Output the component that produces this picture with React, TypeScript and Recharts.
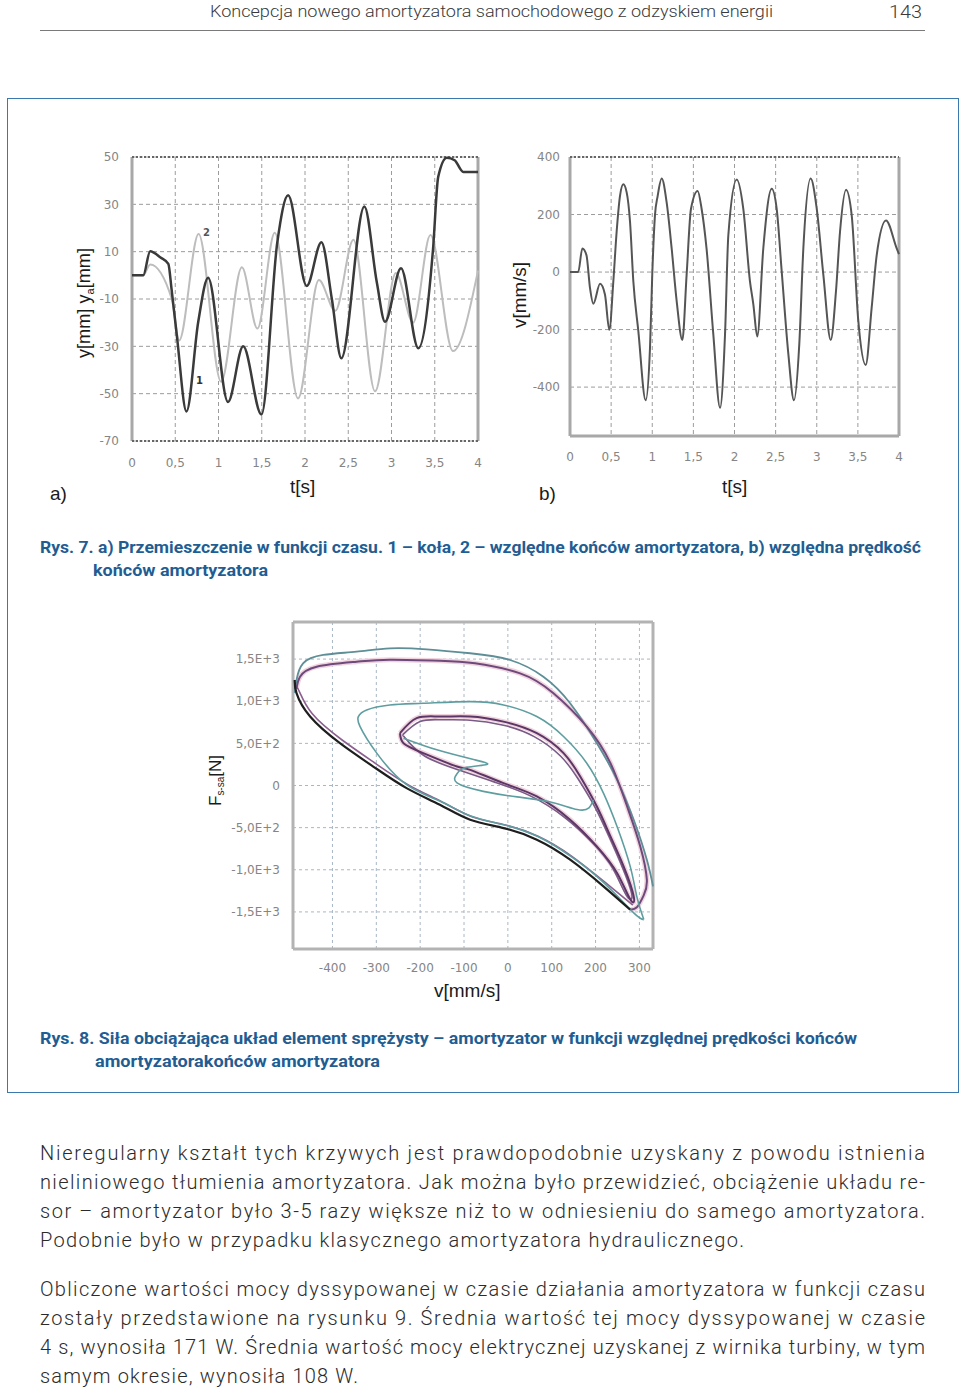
import React from 'react';
import { LineChart, Line, XAxis, YAxis, CartesianGrid, ReferenceLine } from 'recharts';

// ---------- ticks ----------
const timeTicks = [0, 0.5, 1, 1.5, 2, 2.5, 3, 3.5, 4];
const dispTicks = [50, 30, 10, -10, -30, -50, -70];
const velTicks = [400, 200, 0, -200, -400];
const speedTicks = [-400, -300, -200, -100, 0, 100, 200, 300];
const forceTicks = [1500, 1000, 500, 0, -500, -1000, -1500];
const forceTickLabels = ['1,5E+3', '1,0E+3', '5,0E+2', '0', '-5,0E+2', '-1,0E+3', '-1,5E+3'];

// ---------- Rys. 7a: displacement ----------
const wheelT = [0, 0.13, 0.21, 0.33, 0.42, 0.457, 0.52, 0.63, 0.766, 0.88, 1.11, 1.285, 1.497, 1.68, 1.805, 2.02, 2.19, 2.31, 2.42, 2.686, 2.83, 2.925, 3.11, 3.31, 3.48, 3.54, 3.64, 3.73, 3.83, 3.96, 4.0];
const wheelY = [0, 0, 10.2, 7.5, 4.8, -5.7, -26, -57.5, -19.6, -1, -53.5, -30, -58.8, 14, 33.8, -4.5, 14, -9.9, -35, 29.1, -2.9, -19.6, 3, -30.8, 11, 41.6, 49.7, 48.6, 43.7, 43.7, 43.7];

const relT = [0, 0.13, 0.21, 0.46, 0.545, 0.77, 1.03, 1.27, 1.45, 1.65, 1.92, 2.16, 2.35, 2.56, 2.81, 3.05, 3.25, 3.45, 3.71, 4.0];
const relY = [0, 0, 4.6, -10, -27.5, 17.5, -45, 3.4, -22.5, 18, -52, -2, -15, 15, -49, 1, -20, 17, -32, 2];

// ---------- Rys. 7b: relative velocity ----------
const velT = [0, 0.1, 0.15, 0.2, 0.243, 0.284, 0.365, 0.425, 0.478, 0.527, 0.567, 0.608, 0.648, 0.689, 0.73, 0.77, 0.83, 0.92, 0.973, 1.0, 1.033, 1.066, 1.115, 1.175, 1.236, 1.297, 1.366, 1.418, 1.471, 1.552, 1.6, 1.66, 1.742, 1.824, 1.885, 1.925, 2.027, 2.107, 2.188, 2.229, 2.277, 2.35, 2.452, 2.513, 2.574, 2.654, 2.723, 2.788, 2.837, 2.926, 3.0, 3.08, 3.17, 3.234, 3.283, 3.356, 3.425, 3.505, 3.595, 3.668, 3.729, 3.842, 3.972, 4.0];
const velV = [0, 0, 82, 59, -55, -110, -41, -78, -201, -32, 140, 265, 305, 277, 174, -32, -203, -446, -261, -9, 197, 265, 325, 242, 82, -101, -236, -9, 220, 282, 220, 82, -215, -472, -215, 128, 322, 220, -32, -112, -224, 82, 290, 220, 2, -283, -446, -249, 82, 325, 220, -9, -236, -66, 140, 286, 197, -169, -323, -123, 59, 179, 82, 62];

// ---------- Rys. 8: force vs velocity loops ----------
const outerTopV = [-486, -482, -467, -421, -345, -269, -185, -86, 5, 81, 142, 203, 249, 287, 317, 331];
const outerTopF = [1100, 1252, 1450, 1549, 1588, 1628, 1616, 1569, 1489, 1291, 976, 502, 68, -406, -880, -1196];

const secondV = [-482, -474, -436, -345, -269, -155, -75, 28, 104, 180, 234, 272, 302, 317, 310, 295, 279];
const secondF = [1150, 1291, 1410, 1469, 1493, 1481, 1450, 1331, 1095, 699, 265, -249, -723, -1117, -1300, -1440, -1473];

const lowerV = [279, 218, 142, 66, -10, -86, -155, -231, -307, -383, -451, -482, -486];
const lowerF = [-1473, -1196, -880, -643, -505, -406, -229, -31, 225, 502, 818, 1095, 1252];

const lower2V = [285, 222, 146, 70, -6, -82, -150, -226, -302, -378, -446, -476, -482];
const lower2F = [-1420, -1150, -840, -605, -468, -370, -195, 5, 262, 540, 850, 1120, 1150];

const middleV = [310, 287, 218, 142, 66, -10, -86, -155, -231, -299, -337, -341, -322, -269, -193, -86, -10, 66, 127, 180, 218, 249, 279, 294, 310];
const middleF = [-1591, -1512, -1150, -835, -600, -465, -360, -185, 10, 384, 699, 818, 897, 956, 976, 995, 956, 818, 581, 265, -90, -486, -960, -1315, -1591];

const innerV = [-246, -208, -155, -86, -10, 66, 127, 165, 203, 234, 264, 287, 279, 249, 203, 142, 66, -10, -86, -116, -193, -238, -246];
const innerF = [621, 799, 818, 818, 758, 621, 384, 107, -249, -604, -960, -1315, -1350, -1038, -723, -406, -130, 28, 186, 225, 384, 502, 621];

const inner2V = [-240, -200, -150, -86, -10, 60, 120, 160, 200, 232, 262, 283, 270, 240, 195, 130, 50, -30, -110, -190, -240];
const inner2F = [600, 760, 780, 775, 715, 580, 350, 80, -270, -620, -980, -1300, -1300, -990, -690, -380, -120, 40, 180, 350, 600];

const zigV = [-238, -160, -75, -48, -94, -116, -116, -56, 21, 97, 158, 185, 195];
const zigF = [561, 420, 304, 250, 215, 140, 30, -70, -135, -195, -285, -265, -170];

// ---------- helpers ----------
const zip = (xs: number[], ys: number[], kx: string, ky: string) => xs.map((x, i) => ({ [kx]: x, [ky]: ys[i] }));
const commaFmt = (v: number) => String(v).replace('.', ',');

const wheelData = zip(wheelT, wheelY, 't', 'y');
const relData = zip(relT, relY, 't', 'y');
const velData = zip(velT, velV, 't', 'v');

const loopData = (vs: number[], fs: number[]) => zip(vs, fs, 'v', 'f');

const tickStyle = { fill: '#858585', fontSize: 12, fontFamily: 'DejaVu Sans' };

function ChartA() {
  return (
    <div style={{ position: 'absolute', left: 60, top: 140 }}>
      <LineChart width={430} height={340} margin={{ top: 17, right: 12, bottom: 9, left: 22 }}>
        <CartesianGrid stroke="#9c9c9c" strokeDasharray="4 3" />
        <XAxis type="number" dataKey="t" domain={[0, 4]} ticks={timeTicks} tickFormatter={commaFmt}
          axisLine={false} tickLine={false} tickSize={6} tickMargin={11} height={30} tick={tickStyle} allowDuplicatedCategory={false} />
        <YAxis type="number" domain={[-70, 50]} ticks={dispTicks} axisLine={false} tickLine={false}
          tickSize={6} tickMargin={7} width={50} tick={tickStyle} />
        <ReferenceLine x={0} stroke="#a8a8a8" strokeWidth={3} />
        <ReferenceLine x={4} stroke="#a8a8a8" strokeWidth={3} />
        <ReferenceLine y={50} stroke="#666" strokeDasharray="2 2" strokeWidth={2} />
        <ReferenceLine y={-70} stroke="#666" strokeDasharray="2 2" strokeWidth={2} />
        <Line data={relData} dataKey="y" type="monotone" stroke="#bdbdbd" strokeWidth={2} dot={false} isAnimationActive={false} />
        <Line data={wheelData} dataKey="y" type="monotone" stroke="#3a3a3a" strokeWidth={2.5} dot={false} isAnimationActive={false} />
      </LineChart>
    </div>
  );
}

function ChartB() {
  return (
    <div style={{ position: 'absolute', left: 500, top: 140 }}>
      <LineChart width={410} height={340} margin={{ top: 17, right: 11, bottom: 14, left: 20 }}>
        <CartesianGrid stroke="#9c9c9c" strokeDasharray="4 3" />
        <XAxis type="number" dataKey="t" domain={[0, 4]} ticks={timeTicks} tickFormatter={commaFmt}
          axisLine={false} tickLine={false} tickSize={6} tickMargin={10} height={30} tick={tickStyle} />
        <YAxis type="number" domain={[-570, 400]} ticks={velTicks} axisLine={false} tickLine={false}
          tickSize={6} tickMargin={4} width={50} tick={tickStyle} />
        <ReferenceLine x={0} stroke="#a8a8a8" strokeWidth={3} />
        <ReferenceLine x={4} stroke="#a8a8a8" strokeWidth={3} />
        <ReferenceLine y={400} stroke="#666" strokeDasharray="2 2" strokeWidth={2} />
        <ReferenceLine y={-570} stroke="#a8a8a8" strokeWidth={3} />
        <Line data={velData} dataKey="v" type="monotone" stroke="#555" strokeWidth={2} dot={false} isAnimationActive={false} />
      </LineChart>
    </div>
  );
}

function ChartC() {
  const loops = [
    { d: loopData(secondV, secondF), c: '#f1d3de', w: 5 },
    { d: loopData(innerV, innerF), c: '#f1d3de', w: 5 },
    { d: loopData(lower2V, lower2F), c: '#8b5f8e', w: 1.6 },
    { d: loopData(outerTopV, outerTopF), c: '#5e8e96', w: 1.8 },
    { d: loopData(secondV, secondF), c: '#6d4a7c', w: 2 },
    { d: loopData(middleV, middleF), c: '#5f9ea0', w: 1.6 },
    { d: loopData(inner2V, inner2F), c: '#7a5a86', w: 1.6 },
    { d: loopData(innerV, innerF), c: '#5a3766', w: 2 },
    { d: loopData(zigV, zigF), c: '#5f9ea0', w: 1.6 },
    { d: loopData(lowerV, lowerF), c: '#1e1e1e', w: 2.2 },
  ];
  return (
    <div style={{ position: 'absolute', left: 200, top: 610 }}>
      <LineChart width={470} height={380} margin={{ top: 12, right: 17, bottom: 11, left: 23 }}>
        <CartesianGrid stroke="#a9b6c6" strokeDasharray="3 3" />
        <XAxis type="number" dataKey="v" domain={[-490, 331]} ticks={speedTicks}
          axisLine={false} tickLine={false} tickSize={6} tickMargin={8} height={30} tick={tickStyle} />
        <YAxis type="number" domain={[-1940, 1940]} ticks={forceTicks}
          tickFormatter={(v: number) => forceTickLabels[forceTicks.indexOf(v)] ?? String(v)}
          axisLine={false} tickLine={false} tickSize={6} tickMargin={7} width={70} tick={tickStyle} />
        <ReferenceLine x={-490} stroke="#b3b3b3" strokeWidth={3} />
        <ReferenceLine x={331} stroke="#b3b3b3" strokeWidth={3} />
        <ReferenceLine y={1940} stroke="#b3b3b3" strokeWidth={3} />
        <ReferenceLine y={-1940} stroke="#b3b3b3" strokeWidth={3} />
        {loops.map((l, i) => (
          <Line key={i} data={l.d} dataKey="f" type="natural" stroke={l.c} strokeWidth={l.w}
            dot={false} isAnimationActive={false} />
        ))}
      </LineChart>
    </div>
  );
}

const blue = '#1f5d92';

function T(p: { x: number; y: number; w?: number; size: number; weight?: number; fill?: string; family?: string; adjust?: string; children: React.ReactNode }) {
  return (
    <text x={p.x} y={p.y} fontSize={p.size} fontWeight={p.weight ?? 400} fill={p.fill ?? '#222'}
      fontFamily={p.family ?? 'Roboto'} textLength={p.w} lengthAdjust={p.adjust ?? 'spacingAndGlyphs'}>
      {p.children}
    </text>
  );
}

const body1 = [
  'Nieregularny kształt tych krzywych jest prawdopodobnie uzyskany z powodu istnienia',
  'nieliniowego tłumienia amortyzatora. Jak można było przewidzieć, obciążenie układu re-',
  'sor – amortyzator było 3-5 razy większe niż to w odniesieniu do samego amortyzatora.',
  'Podobnie było w przypadku klasycznego amortyzatora hydraulicznego.',
];
const body2 = [
  'Obliczone wartości mocy dyssypowanej w czasie działania amortyzatora w funkcji czasu',
  'zostały przedstawione na rysunku 9. Średnia wartość tej mocy dyssypowanej w czasie',
  '4 s, wynosiła 171 W. Średnia wartość mocy elektrycznej uzyskanej z wirnika turbiny, w tym',
  'samym okresie, wynosiła 108 W.',
];
const body1W = [885, 885, 885, 704];
const body2W = [885, 885, 885, 318];

function Texts() {
  const lab = { fontFamily: 'Liberation Sans', fill: '#1a1a1a' };
  return (
    <svg width={960} height={1388} style={{ position: 'absolute', left: 0, top: 0, pointerEvents: 'none' }}>
      <T x={210} y={16.5} w={563} size={16} weight={300} fill="#3a3a3a">Koncepcja nowego amortyzatora samochodowego z odzyskiem energii</T>
      <T x={889} y={18} w={33} size={19} weight={300} fill="#3a3a3a">143</T>
      <line x1={40} y1={30.5} x2={925} y2={30.5} stroke="#7a7a7a" strokeWidth={1} />

      {/* chart a labels */}
      <text transform="translate(90,358) rotate(-90)" fontSize={18} {...lab} textLength={110} lengthAdjust="spacingAndGlyphs">
        y[mm] y<tspan fontSize={11} dy={4}>a</tspan><tspan dy={-4}>[mm]</tspan>
      </text>
      <text x={290} y={493} fontSize={19} {...lab}>t[s]</text>
      <text x={50} y={500} fontSize={19} {...lab}>a)</text>
      <text transform="translate(526,328) rotate(-90)" fontSize={19} {...lab} textLength={66} lengthAdjust="spacingAndGlyphs">v[mm/s]</text>
      <text x={722} y={493} fontSize={19} {...lab}>t[s]</text>
      <text x={539} y={500} fontSize={19} {...lab}>b)</text>
      <text x={203} y={236} fontSize={10} fontWeight={700} fill="#555" fontFamily="DejaVu Sans">2</text>
      <text x={196} y={384} fontSize={10} fontWeight={700} fill="#333" fontFamily="DejaVu Sans">1</text>

      <T x={40} y={553} w={881} size={16} weight={700} fill={blue}>Rys. 7. a) Przemieszczenie w funkcji czasu. 1 – koła, 2 – względne końców amortyzatora, b) względna prędkość</T>
      <T x={93} y={576} w={175} size={16} weight={700} fill={blue}>końców amortyzatora</T>

      {/* chart c labels */}
      <text transform="translate(221,806) rotate(-90)" fontSize={17} {...lab} textLength={51} lengthAdjust="spacingAndGlyphs">
        F<tspan fontSize={10} dy={3}>s-sa</tspan><tspan dy={-3}>[N]</tspan>
      </text>
      <text x={434} y={997} fontSize={19} {...lab}>v[mm/s]</text>

      <T x={40} y={1044} w={817} size={16} weight={700} fill={blue}>Rys. 8. Siła obciążająca układ element sprężysty – amortyzator w funkcji względnej prędkości końców</T>
      <T x={95} y={1067} w={285} size={16} weight={700} fill={blue}>amortyzatorakońców amortyzatora</T>

      {body1.map((s, i) => (
        <T key={'a' + i} x={40} y={1160 + i * 29} w={body1W[i]} size={20} weight={300} fill="#2b2b2b" adjust="spacing">{s}</T>
      ))}
      {body2.map((s, i) => (
        <T key={'b' + i} x={40} y={1296 + i * 29} w={body2W[i]} size={20} weight={300} fill="#2b2b2b" adjust="spacing">{s}</T>
      ))}
    </svg>
  );
}

export default function App() {
  return (
    <div style={{ position: 'absolute', left: 0, top: 0, width: 960, height: 1388, background: '#fff' }}>
      <div style={{ position: 'absolute', left: 7, top: 98, width: 950, height: 993, border: '1.5px solid #3a78ad' }} />
      <ChartA />
      <ChartB />
      <ChartC />
      <Texts />
    </div>
  );
}
